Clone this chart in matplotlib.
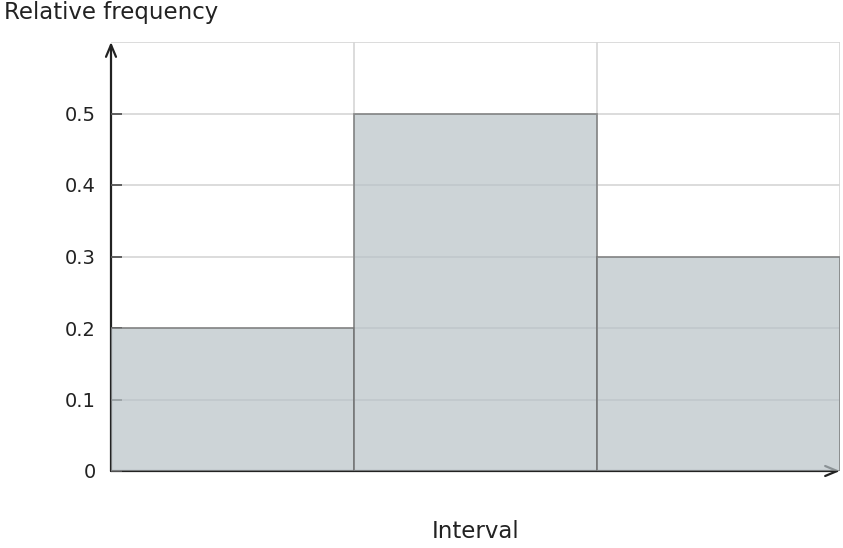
import matplotlib.pyplot as plt
import numpy as np

# histogram data
bin_edges = [0, 1, 2, 3]
rel_freq = [0.2, 0.5, 0.3]
yticks = [0, 0.1, 0.2, 0.3, 0.4, 0.5]
ytick_labels = ['0', '0.1', '0.2', '0.3', '0.4', '0.5']

fig = plt.figure(figsize=(8.43, 5.48), dpi=100)
ax = fig.add_axes([111 / 843, 77 / 548, 729 / 843, 429 / 548])

ax.set_xlim(bin_edges[0], bin_edges[-1])
ax.set_ylim(0, 0.6)

# light grid: horizontal at y ticks (and top), vertical at bin edges
for y in yticks[1:] + [0.6]:
    ax.axhline(y, color='#d6d6d6', lw=1.2, zorder=0)
for x in bin_edges[1:]:
    ax.axvline(x, color='#d6d6d6', lw=1.2, zorder=0)

for s in ax.spines.values():
    s.set_visible(False)

# axes with arrows
arrow = dict(arrowstyle='->,head_length=0.86,head_width=0.36', color='#222222',
             lw=1.6, shrinkA=0, shrinkB=0, mutation_scale=10)
ax.annotate('', xy=(1.0, 0), xycoords='axes fraction', xytext=(0, 0),
            arrowprops=arrow, zorder=1)
ax.annotate('', xy=(0, 1.0), xycoords='axes fraction', xytext=(0, 0),
            arrowprops=arrow, zorder=1)

ax.bar(bin_edges[:-1], rel_freq, width=np.diff(bin_edges), align='edge',
       color='#b8c2c7', alpha=0.7, edgecolor='#6e6e6e', linewidth=1.3, zorder=3)

ax.set_yticks(yticks)
ax.set_yticklabels(ytick_labels)
ax.set_xticks([])
ax.tick_params(axis='y', direction='in', length=8, width=1.3, color='#555555',
               labelsize=14, labelcolor='#222222', pad=11)

fig.text(4 / 843, 1 - 12 / 548, 'Relative frequency', fontsize=16.5,
         color='#222222', ha='left', va='center')
fig.text(476 / 843, 1 - 531 / 548, 'Interval', fontsize=16.5,
         color='#222222', ha='center', va='center')

fig.savefig('out.png', dpi=100)
